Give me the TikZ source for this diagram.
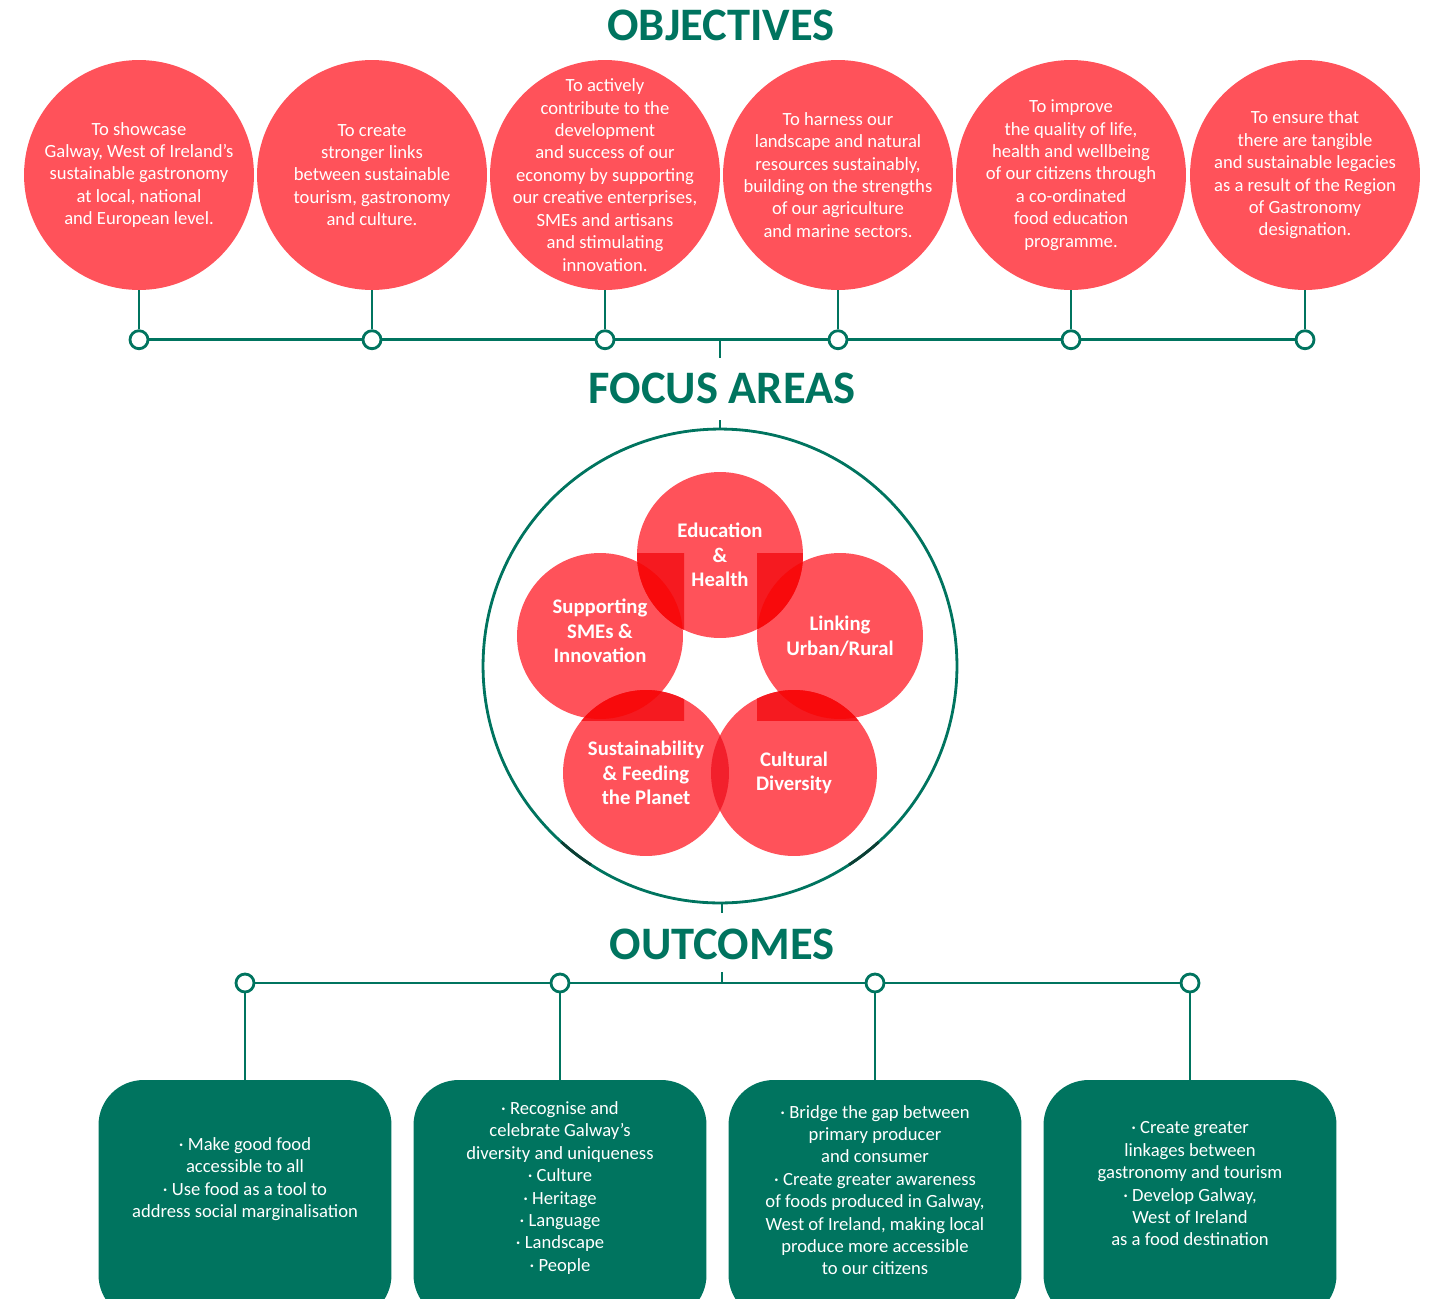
\documentclass[tikz,border=0pt]{standalone}
\usepackage{fontspec}
\setmainfont{Carlito}
\usetikzlibrary{shapes,positioning}

\definecolor{galwayGreen}{HTML}{00745F}
\definecolor{galwayRed}{HTML}{FF525A}
\definecolor{tintRed}{HTML}{F51A20}
\definecolor{deepRed}{HTML}{F80A0C}
\definecolor{lensRed}{HTML}{F2202C}
\definecolor{ringDark}{HTML}{0C3D33}

\tikzstyle{objective} = [circle, fill=galwayRed, inner sep=0pt, minimum size=4.6cm]
\tikzstyle{objText} = [text=white, align=center, font=\fontsize{10.6}{12.75}\selectfont]
\tikzstyle{focus} = [circle, text=white, inner sep=0pt, minimum size=3.32cm,
align=center, font=\fontsize{11.8}{13.9}\selectfont\bfseries]
\tikzstyle{joint} = [circle, draw=galwayGreen, fill=white, line width=1.6pt,
inner sep=0pt, minimum size=0.36cm]
\tikzstyle{heading} = [text=galwayGreen, font=\fontsize{26.5}{30}\selectfont\bfseries]
\tikzstyle{outcome} = [rectangle, fill=galwayGreen, rounded corners=0.9cm,
minimum width=5.86cm, minimum height=4.8cm]
\tikzstyle{outText} = [text=white, align=center, font=\fontsize{10.6}{12.75}\selectfont]
\tikzstyle{line} = [draw=galwayGreen, line width=1.6pt]

\begin{document}
\begin{tikzpicture}[x=0.02cm, y=-0.02cm]

   \useasboundingbox (0,0) rectangle (1436,1298);

   %% Objectives

   \node[heading] (objTitle) at (721,25) {OBJECTIVES};

   \node[objective] (obj1) at (139,175) {};
   \node[objective] (obj2) at (372,175) {};
   \node[objective] (obj3) at (605,175) {};
   \node[objective] (obj4) at (838,175) {};
   \node[objective] (obj5) at (1071,175) {};
   \node[objective] (obj6) at (1305,175) {};

   \node[objText] (obj1txt) at (obj1) {To showcase\\Galway, West of Ireland’s\\sustainable gastronomy\\at local, national\\and European level.};
   \node[objText] (obj2txt) at (obj2) {To create\\stronger links\\between sustainable\\tourism, gastronomy\\and culture.};
   \node[objText] (obj3txt) at (obj3) {To actively\\contribute to the\\development\\and success of our\\economy by supporting\\our creative enterprises,\\SMEs and artisans\\and stimulating\\innovation.};
   \node[objText] (obj4txt) at (obj4) {To harness our\\landscape and natural\\resources sustainably,\\building on the strengths\\of our agriculture\\and marine sectors.};
   \node[objText] (obj5txt) at (obj5) {To improve\\the quality of life,\\health and wellbeing\\of our citizens through\\a co-ordinated\\food education\\programme.};
   \node[objText] (obj6txt) at (obj6) {To ensure that\\there are tangible\\and sustainable legacies\\as a result of the Region\\of Gastronomy\\designation.};

   % joints under the objectives
   \node[joint] (j1) [below = 0.78cm of obj1] {};
   \node[joint] (j2) [below = 0.78cm of obj2] {};
   \node[joint] (j3) [below = 0.78cm of obj3] {};
   \node[joint] (j4) [below = 0.78cm of obj4] {};
   \node[joint] (j5) [below = 0.78cm of obj5] {};
   \node[joint] (j6) [below = 0.78cm of obj6] {};

   \path[line] (obj1) -- (j1);
   \path[line] (obj2) -- (j2);
   \path[line] (obj3) -- (j3);
   \path[line] (obj4) -- (j4);
   \path[line] (obj5) -- (j5);
   \path[line] (obj6) -- (j6);

   \path[line] (j1) -- (j2) -- (j3) -- (j4) -- (j5) -- (j6);

   \coordinate (topMid) at (720,339);
   \coordinate (topTick) at (720,358);
   \path[line] (topMid) -- (topTick);

   %% Focus areas

   \node[heading] (focusTitle) at (722,388) {FOCUS AREAS};

   \node[circle, draw=galwayGreen, line width=1.6pt, inner sep=0pt,
         minimum size=9.48cm] (ring) at (720,666) {};
   \coordinate (ringTop) at (720,420);
   \path[line] (ringTop) -- (ring.north);

   \draw[ringDark, line width=1.6pt] (ring.center) ++(228:4.74cm) arc[start angle=228, end angle=237, radius=4.74cm];
   \draw[ringDark, line width=1.6pt] (ring.center) ++(303:4.74cm) arc[start angle=303, end angle=312, radius=4.74cm];

   \coordinate (eduC)  at (720,555);
   \coordinate (suppC) at (600,636);
   \coordinate (linkC) at (840,636);
   \coordinate (sustC) at (646,773);
   \coordinate (cultC) at (794,773);

   \fill[galwayRed] (eduC) circle[radius=1.66cm];
   \fill[galwayRed] (suppC) circle[radius=1.66cm];
   \fill[galwayRed] (linkC) circle[radius=1.66cm];
   \fill[galwayRed] (sustC) circle[radius=1.66cm];
   \fill[galwayRed] (cultC) circle[radius=1.66cm];

   % darker patches where the circles meet
   \begin{scope}
      \clip (517,553) rectangle (684,720);
      \fill[tintRed] (eduC) circle[radius=1.66cm] (sustC) circle[radius=1.66cm];
      \clip (suppC) circle[radius=1.66cm];
      \fill[deepRed] (eduC) circle[radius=1.66cm] (sustC) circle[radius=1.66cm];
   \end{scope}
   \begin{scope}
      \clip (757,553) rectangle (923,720);
      \fill[tintRed] (eduC) circle[radius=1.66cm] (cultC) circle[radius=1.66cm];
      \clip (linkC) circle[radius=1.66cm];
      \fill[deepRed] (eduC) circle[radius=1.66cm] (cultC) circle[radius=1.66cm];
   \end{scope}
   \begin{scope}
      \clip (sustC) circle[radius=1.66cm];
      \fill[lensRed] (cultC) circle[radius=1.66cm];
   \end{scope}

   \node[focus] (edu)  at (eduC) {Education\\\&\\Health};
   \node[focus] (supp) at (suppC) [yshift=0.1cm] {Supporting\\SMEs \&\\Innovation};
   \node[focus] (link) at (linkC) {Linking\\Urban/Rural};
   \node[focus] (sust) at (sustC) {Sustainability\\\& Feeding\\the Planet};
   \node[focus] (cult) at (cultC) {Cultural\\Diversity};

   %% Outcomes

   \coordinate (ringBottom) at (722,903);
   \coordinate (ringTick) at (722,913);
   \path[line] (ringBottom) -- (ringTick);

   \node[heading] (outTitle) at (722,944) {OUTCOMES};

   \node[joint] (k1) at (245,983) {};
   \node[joint] (k2) at (560,983) {};
   \node[joint] (k3) at (875,983) {};
   \node[joint] (k4) at (1190,983) {};

   \path[line] (k1) -- (k2) -- (k3) -- (k4);

   \coordinate (botMid) at (722,983);
   \coordinate (botTick) at (722,972);
   \path[line] (botMid) -- (botTick);

   \node[outcome] (out1) at (245,1200) {};
   \node[outcome] (out2) at (560,1200) {};
   \node[outcome] (out3) at (875,1200) {};
   \node[outcome] (out4) at (1190,1200) {};

   \path[line] (k1) -- (out1.north);
   \path[line] (k2) -- (out2.north);
   \path[line] (k3) -- (out3.north);
   \path[line] (k4) -- (out4.north);

   \node[outText] (out1txt) at (245,1179) {· Make good food\\accessible to all\\· Use food as a tool to\\address social marginalisation};
   \node[outText] (out2txt) at (560,1188) {· Recognise and\\celebrate Galway’s\\diversity and uniqueness\\· Culture\\· Heritage\\· Language\\· Landscape\\· People};
   \node[outText] (out3txt) at (875,1190) {· Bridge the gap between\\primary producer\\and consumer\\· Create greater awareness\\of foods produced in Galway,\\West of Ireland, making local\\produce more accessible\\to our citizens};
   \node[outText] (out4txt) at (1190,1184) {· Create greater\\linkages between\\gastronomy and tourism\\· Develop Galway,\\West of Ireland\\as a food destination};

\end{tikzpicture}
\end{document}
